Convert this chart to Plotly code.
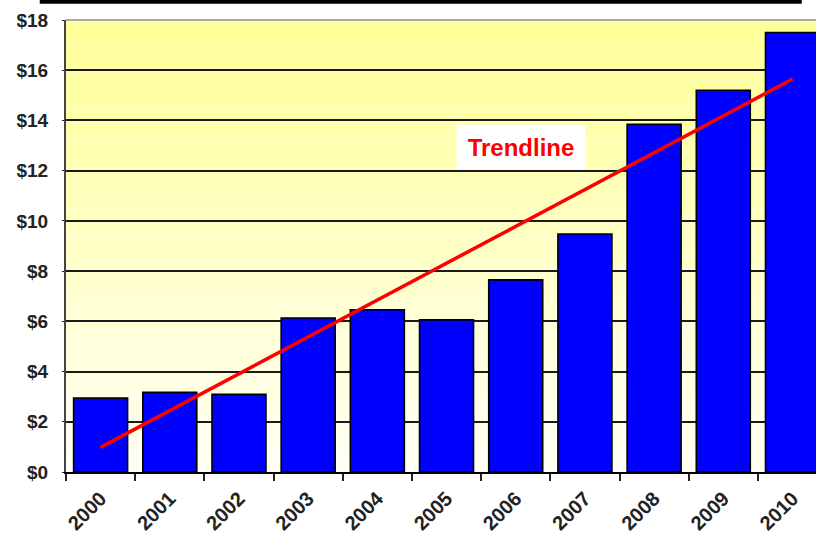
import plotly.graph_objects as go

years = ["2000", "2001", "2002", "2003", "2004", "2005", "2006", "2007", "2008", "2009", "2010"]
values = [2.94, 3.17, 3.09, 6.13, 6.46, 6.06, 7.65, 9.48, 13.85, 15.2, 17.5]
trend_x = ["2000", "2010"]
trend_y = [0.98, 15.65]
y_ticks = [0, 2, 4, 6, 8, 10, 12, 14, 16, 18]
y_labels = ["$" + str(v) for v in y_ticks]

fig = go.Figure()
fig.add_trace(go.Bar(
    x=years, y=values, width=0.78,
    marker=dict(color="#0000FF", line=dict(color="#000000", width=1.6)),
))
fig.add_trace(go.Scatter(
    x=trend_x, y=trend_y, mode="lines",
    line=dict(color="#FF0000", width=3.5),
))

# gradient background
shapes = []
n = 60
top, bottom = 18.0, 0.0
for i in range(n):
    y0 = bottom + (top - bottom) * i / n
    y1 = bottom + (top - bottom) * (i + 1) / n
    t = (i + 0.5) / n
    b = int(round(245 - (245 - 150) * t))
    shapes.append(dict(type="rect", xref="paper", yref="y", x0=0, x1=1, y0=y0, y1=y1,
                       fillcolor=f"rgb(255,255,{b})", line=dict(width=0), layer="below"))
# top border
shapes.append(dict(type="line", xref="paper", yref="paper", x0=0, x1=1, y0=1, y1=1,
                   line=dict(color="#aaaaaa", width=2), layer="above"))
# black rule at very top of image
shapes.append(dict(type="rect", xref="paper", yref="paper", x0=-0.035, x1=0.981,
                   y0=1.036, y1=1.045, fillcolor="#000000", line=dict(width=0)))

fig.update_layout(
    width=816, height=536,
    margin=dict(l=66, r=0, t=20, b=64),
    paper_bgcolor="white", plot_bgcolor="white",
    showlegend=False,
    shapes=shapes,
    font=dict(family="Liberation Sans", color="#222222"),
    annotations=[dict(
        x=6.08, y=12.94, xref="x", yref="y", text="<b>Trendline</b>", showarrow=False,
        font=dict(family="Liberation Sans", size=24, color="#FF0000"),
        bgcolor="white", width=126, height=42, borderpad=1,
    )],
)
fig.update_xaxes(
    type="category", range=[-0.5, 10.34],
    tickson="boundaries", ticks="outside", ticklen=7, tickwidth=2, tickcolor="#222222",
    tickangle=-45, ticklabelstandoff=5,
    tickfont=dict(size=20, weight="bold", family="Liberation Sans", color="#222222"),
    showline=True, linecolor="#000000", linewidth=2, showgrid=False,
)
fig.update_yaxes(
    range=[0, 18], tickvals=y_ticks, ticktext=y_labels,
    ticks="outside", ticklen=2, tickcolor="#222222", ticklabelstandoff=10,
    tickfont=dict(size=19, weight="bold", family="Liberation Sans", color="#222222"),
    showgrid=True, gridcolor="#1a1a1a", gridwidth=1.5,
    showline=True, linecolor="#444444", linewidth=2, zeroline=False,
)
fig.write_html("out.html", config={"displayModeBar": False},
               post_script="document.body.style.margin='0';document.body.style.overflow='hidden';")
